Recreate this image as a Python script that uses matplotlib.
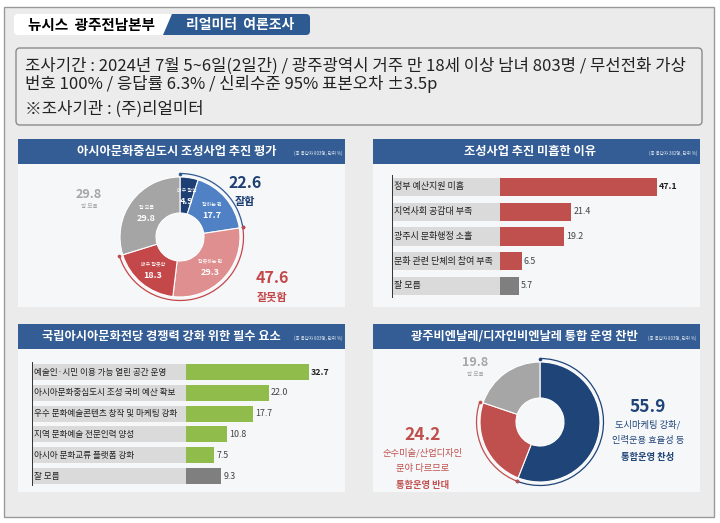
import matplotlib
matplotlib.use("Agg")
import matplotlib.pyplot as plt
import numpy as np
from matplotlib.patches import Rectangle, FancyBboxPatch, Polygon, Arc

plt.rcParams['font.family'] = ['Noto Sans CJK KR', 'DejaVu Sans']

# ---- data ----
eval_labels = ['매우 잘함', '잘하는 편', '잘못하는 편', '매우 잘못함', '잘 모름']
eval_values = [4.9, 17.7, 29.3, 18.3, 29.8]
eval_colors = ['#1e3f73', '#4f81c4', '#df8f8f', '#c4474a', '#a5a5a5']
eval_good = 22.6
eval_bad = 47.6
eval_dk = 29.8

reason_labels = ['정부 예산지원 미흡', '지역사회 공감대 부족', '광주시 문화행정 소홀',
                 '문화 관련 단체의 참여 부족', '잘 모름']
reason_values = [47.1, 21.4, 19.2, 6.5, 5.7]

factor_labels = ['예술인·시민 이용 가능 열린 공간 운영', '아시아문화중심도시 조성 국비 예산 확보',
                 '우수 문화예술콘텐츠 창작 및 마케팅 강화', '지역 문화예술 전문인력 양성',
                 '아시아 문화교류 플랫폼 강화', '잘 모름']
factor_values = [32.7, 22.0, 17.7, 10.8, 7.5, 9.3]

merge_labels = ['통합운영 찬성', '통합운영 반대', '잘 모름']
merge_values = [55.9, 24.2, 19.8]
merge_colors = ['#1f4478', '#c0504d', '#a6a6a6']

W, H = 720, 523
fig = plt.figure(figsize=(W / 100, H / 100), dpi=100, facecolor='white')

ax0 = fig.add_axes([0, 0, 1, 1])
ax0.set_xlim(0, W)
ax0.set_ylim(H, 0)
ax0.axis('off')


def px_axes(x0, y0, x1, y1):
    return fig.add_axes([x0 / W, 1 - y1 / H, (x1 - x0) / W, (y1 - y0) / H])


NAVY = '#335d94'

# background + border
ax0.add_patch(Rectangle((4, 7), 710, 510, facecolor='#ebebeb', edgecolor='#9a9a9a', lw=1))

# header tabs
ax0.add_patch(FancyBboxPatch((14, 14), 159, 21, boxstyle='round,pad=0,rounding_size=4',
                             facecolor='white', edgecolor='none'))
ax0.add_patch(FancyBboxPatch((178, 14), 132, 21, boxstyle='round,pad=0,rounding_size=4',
                             facecolor='#2c5a91', edgecolor='none'))
ax0.add_patch(Polygon([(172, 14), (185, 14), (185, 35), (163, 35)], closed=True,
                      facecolor='#2c5a91', edgecolor='none'))
ax0.text(91, 25, '뉴시스  광주전남본부', fontsize=10.5, fontweight='bold', ha='center', va='center')
ax0.text(240, 25, '리얼미터  여론조사', fontsize=10, fontweight='bold', color='white',
         ha='center', va='center')

# info box
ax0.add_patch(FancyBboxPatch((16, 48), 686, 77, boxstyle='round,pad=0,rounding_size=4',
                             facecolor='#ececec', edgecolor='#8c8c8c', lw=1))
info_kw = dict(fontsize=12, ha='left', va='center', color='#222222')
ax0.text(25, 66, '조사기간 : 2024년 7월 5~6일(2일간) / 광주광역시 거주 만 18세 이상 남녀 803명 / 무선전화 가상', **info_kw)
ax0.text(25, 84, '번호 100% / 응답률 6.3% / 신뢰수준 95% 표본오차 ±3.5p', **info_kw)
ax0.text(25, 109, '※조사기관 : (주)리얼미터', **info_kw)

# panels
panels = [
    (18, 139, 345, 307, '아시아문화중심도시 조성사업 추진 평가', 177, '(총 응답자 803명, 단위 %)'),
    (373, 139, 700, 307, '조성사업 추진 미흡한 이유', 530, '(총 응답자 382명, 단위 %)'),
    (18, 324, 345, 492, '국립아시아문화전당 경쟁력 강화 위한 필수 요소', 161, '(총 응답자 803명, 단위 %)'),
    (373, 324, 700, 492, '광주비엔날레/디자인비엔날레 통합 운영 찬반', 524, '(총 응답자 803명, 단위 %)'),
]
for x0, y0, x1, y1, title, tx, note in panels:
    ax0.add_patch(Rectangle((x0, y0 + 25), x1 - x0, y1 - y0 - 25, facecolor='#f6f7f9', edgecolor='none'))
    ax0.add_patch(Rectangle((x0, y0), x1 - x0, 25, facecolor=NAVY, edgecolor='none'))
    ax0.text(tx, y0 + 12.5, title, fontsize=8.8, fontweight='bold', color='white', ha='center', va='center')
    ax0.text(x1 - 3, y0 + 14, note, fontsize=3.2, color='#dfe6f0', ha='right', va='center')


def donut(cx, cy, values, colors, r=60):
    ax = px_axes(cx - 70, cy - 70, cx + 70, cy + 70)
    wedges, _ = ax.pie(values, colors=colors, startangle=90, counterclock=False, radius=r,
                       wedgeprops=dict(width=r * 0.6, edgecolor='white', linewidth=0.8))
    ax.set_xlim(-70, 70)
    ax.set_ylim(-70, 70)
    ax.set_aspect('equal')
    ax.axis('off')
    return ax, wedges


def outer_arc(ax, t1, t2, color, r=63.5):
    ax.add_patch(Arc((0, 0), 2 * r, 2 * r, theta1=t1, theta2=t2, color=color, lw=0.9))
    for t in (t1, t2):
        ax.plot(r * np.cos(np.radians(t)), r * np.sin(np.radians(t)), 'o', ms=1.6, color=color)


# ---- panel 1 donut ----
ax1, w1 = donut(180, 237, eval_values, eval_colors)
for w, lab, v in zip(w1, eval_labels, eval_values):
    mid = np.radians((w.theta1 + w.theta2) / 2)
    x, y = 42 * np.cos(mid), 42 * np.sin(mid)
    ax1.text(x, y + 5, lab, fontsize=3.6, color='white', ha='center', va='center')
    ax1.text(x, y - 6, f'{v:.1f}', fontsize=6.5, fontweight='bold', color='white', ha='center', va='center')
good_end = 90 - eval_good * 3.6
bad_end = good_end - eval_bad * 3.6
outer_arc(ax1, good_end, 90, '#2f5a92')
outer_arc(ax1, bad_end, good_end, '#c4474a')

ax0.text(245, 183, f'{eval_good:.1f}', fontsize=11.5, fontweight='bold', color='#1e3f73', ha='center', va='center')
ax0.text(245, 202, '잘함', fontsize=8, fontweight='bold', color='#1e3f73', ha='center', va='center')
ax0.text(272, 278, f'{eval_bad:.1f}', fontsize=11.5, fontweight='bold', color='#c4474a', ha='center', va='center')
ax0.text(272, 297, '잘못함', fontsize=8, fontweight='bold', color='#c4474a', ha='center', va='center')
ax0.text(89, 194, f'{eval_dk:.1f}', fontsize=9, fontweight='bold', color='#a5a5a5', ha='center', va='center')
ax0.text(89, 207, '잘 모름', fontsize=4, color='#a5a5a5', ha='center', va='center')


def bar_panel(x0, x1, bar0, ppu, ytop, step, labels, values, color, h, fs):
    n = len(values)
    ax = px_axes(x0, ytop, x1, ytop + n * step)
    left = -(bar0 - x0) / ppu
    right = (x1 - bar0) / ppu
    ax.set_xlim(left, right)
    ax.set_ylim(n - 0.5, -0.5)
    ypos = np.arange(n)
    cols = [color] * (n - 1) + ['#7f7f7f']
    ax.barh(ypos, [-left] * n, left=left, height=h, color='#dadada')
    ax.barh(ypos, values, height=h, color=cols)
    ax.axvline(left, color='#333333', lw=1.4)
    for i, (lab, v) in enumerate(zip(labels, values)):
        ax.text(left + 0.6, i, lab, fontsize=fs, fontweight='medium', color='#222222', ha='left', va='center')
        ax.text(v + 0.6, i, f'{v:.1f}', fontsize=6.4, fontweight='bold' if i == 0 else 'normal',
                color='#222222' if i == 0 else '#444444', ha='left', va='center')
    ax.axis('off')
    return ax


# ---- panel 2 bars ----
bar_panel(392, 700, 500, 3.333, 174.6, 24.75, reason_labels, reason_values, '#c0504d', 0.73, 6.5)

# ---- panel 3 bars ----
bar_panel(32, 345, 186, 3.76, 361.6, 20.8, factor_labels, factor_values, '#8fbc4b', 0.77, 6.2)

# ---- panel 4 donut ----
ax4, w4 = donut(540, 422, merge_values, merge_colors)
yes_end = 90 - merge_values[0] * 3.6
no_end = yes_end - merge_values[1] * 3.6
outer_arc(ax4, yes_end, 90, '#1f4478')
outer_arc(ax4, no_end, yes_end, '#c0504d')

ax0.text(648, 407, f'{merge_values[0]:.1f}', fontsize=12.5, fontweight='bold', color='#1f4478', ha='center', va='center')
ax0.text(648, 425, '도시마케팅 강화/', fontsize=6.7, color='#1f4478', ha='center', va='center')
ax0.text(648, 441, '인력운용 효율성 등', fontsize=6.7, color='#1f4478', ha='center', va='center')
ax0.text(648, 457, merge_labels[0], fontsize=6.7, fontweight='bold', color='#1f4478', ha='center', va='center')
ax0.text(423, 435, f'{merge_values[1]:.1f}', fontsize=12.5, fontweight='bold', color='#c0504d', ha='center', va='center')
ax0.text(423, 453, '순수미술/산업디자인', fontsize=6.7, color='#c0504d', ha='center', va='center')
ax0.text(423, 469, '분야 다르므로', fontsize=6.7, color='#c0504d', ha='center', va='center')
ax0.text(423, 485, merge_labels[1], fontsize=6.7, fontweight='bold', color='#c0504d', ha='center', va='center')
ax0.text(475, 362, f'{merge_values[2]:.1f}', fontsize=9, fontweight='bold', color='#a6a6a6', ha='center', va='center')
ax0.text(475, 375, merge_labels[2], fontsize=4, color='#a6a6a6', ha='center', va='center')

fig.savefig('out.png', dpi=100, facecolor=fig.get_facecolor())
